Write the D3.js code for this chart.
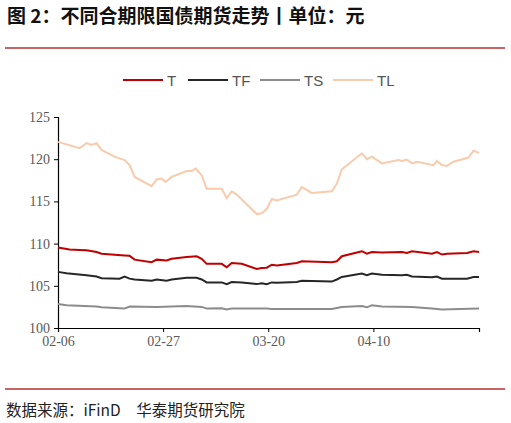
<!DOCTYPE html>
<html><head><meta charset="utf-8">
<script src="https://cdn.jsdelivr.net/npm/d3@7"></script>
<style>body{margin:0;background:#fff}</style></head>
<body><svg id="c" width="511" height="423"></svg>
<script>
// x positions as trading-day offsets from 2024-02-06
const seriesNames = ["T","TF","TS","TL"];
const colors = ["#c00000","#262626","#8c8c8c","#f8cbad"];
const tickLabels = ["02-06","02-27","03-20","04-10"];
const tickDays = [0,21,42,63];
const yTicks = [100,105,110,115,120,125];

const TL_d = [0,4.3,5.7,6.7,7.7,8.7,11.3,13.3,14.3,15.3,18.7,19.7,20.7,21.5,22.7,25.7,26.7,27.5,28.7,29.7,32.7,33.7,34.7,35.7,39.7,40.7,41.7,42.7,43.7,47.7,48.7,50.7,54.7,55.7,56.7,60.7,61.7,62.7,64.7,68.0,68.7,69.7,70.7,71.7,75.0,75.7,76.7,77.7,79.0,82.0,83.0,84.1];
const TL_v = [122.05,121.3,121.9,121.7,121.9,121.1,120.3,119.9,119.3,117.9,116.8,117.6,117.7,117.3,117.9,118.6,118.6,118.9,118.1,116.5,116.5,115.4,116.2,115.8,113.5,113.6,114.1,115.3,115.1,115.8,116.7,116.0,116.2,117.1,118.8,120.7,120.0,120.3,119.5,119.9,119.8,119.95,119.5,119.7,119.3,119.8,119.3,119.2,119.7,120.2,121.0,120.75];
const T_d = [0,2.3,4.3,5.7,7.7,8.7,13.3,14.3,15.3,18.7,19.7,21.7,22.7,25.7,27.7,28.7,29.7,32.7,33.7,34.7,36.7,39.7,40.7,41.7,42.7,43.7,47.7,48.7,54.7,55.7,56.7,60.7,61.7,62.7,64.7,68.7,69.7,70.7,74.7,75.7,76.7,77.7,81.7,83.0,84.1];
const T_v = [109.55,109.3,109.25,109.2,109.0,108.8,108.6,108.55,108.1,107.8,108.1,108.0,108.2,108.4,108.5,108.2,107.6,107.6,107.2,107.7,107.6,107.0,107.1,107.15,107.5,107.4,107.7,107.9,107.8,107.9,108.5,109.1,108.8,109.0,108.95,109.0,108.9,109.1,108.8,109.0,108.7,108.8,108.9,109.1,109.0];
const TF_d = [0,1.7,5.7,7.7,8.7,12.3,13.3,14.3,15.3,18.7,19.7,21.7,22.7,25.7,27.7,28.7,29.7,32.7,33.7,34.7,36.7,39.7,40.7,41.7,42.7,43.7,47.7,48.7,54.7,55.7,56.7,60.7,61.7,62.7,64.7,68.7,69.7,70.7,74.7,75.7,76.7,81.7,83.0,84.1];
const TF_v = [106.65,106.5,106.25,106.1,105.9,105.85,106.1,105.85,105.75,105.6,105.75,105.6,105.75,105.95,105.95,105.75,105.4,105.4,105.2,105.45,105.4,105.2,105.3,105.2,105.4,105.35,105.45,105.6,105.5,105.75,106.05,106.45,106.25,106.45,106.3,106.25,106.3,106.1,106.0,106.1,105.85,105.85,106.05,106.05];
const TS_d = [0,1.7,7.7,8.7,13.3,14.3,19.7,25.7,28.7,29.7,32.7,33.7,34.7,41.7,42.7,54.7,56.7,60.7,61.7,62.7,64.7,70.7,74.7,76.7,84.1];
const TS_v = [102.83,102.7,102.55,102.45,102.3,102.55,102.5,102.6,102.5,102.3,102.35,102.2,102.3,102.3,102.25,102.25,102.5,102.6,102.45,102.7,102.55,102.5,102.3,102.2,102.3];
const dataSets = [[T_d,T_v],[TF_d,TF_v],[TS_d,TS_v],[TL_d,TL_v]];

const svg = d3.select("#c");
svg.append("text").attr("x",7).attr("y",23).attr("font-family","Noto Sans CJK SC").attr("font-weight","bold").attr("font-size",19).attr("fill","#111").text("图 2：不同合期限国债期货走势丨单位：元");
svg.append("line").attr("x1",5).attr("x2",505).attr("y1",48).attr("y2",48).attr("stroke","#c86464").attr("stroke-width",2);
svg.append("line").attr("x1",5).attr("x2",505).attr("y1",389).attr("y2",389).attr("stroke","#c86464").attr("stroke-width",2);
svg.append("text").attr("x",6).attr("y",416).attr("font-family","Noto Sans CJK SC, Liberation Serif").attr("font-size",15.5).attr("fill","#222").text("数据来源：iFinD　华泰期货研究院");

const x = d3.scaleLinear().domain([0,84.1]).range([58,479]);
const y = d3.scaleLinear().domain([100,125]).range([328,117]);

const legX = [123,188,260,333];
seriesNames.forEach((n,i)=>{
  svg.append("line").attr("x1",legX[i]).attr("x2",legX[i]+40).attr("y1",80).attr("y2",80).attr("stroke",colors[i]).attr("stroke-width",2);
  svg.append("text").attr("x",legX[i]+44).attr("y",86).attr("font-family","Liberation Sans Narrow, Liberation Sans").attr("font-size",15).attr("fill","#555").text(n);
});

const yAx = svg.append("g").attr("transform","translate(58,0)").call(d3.axisLeft(y).tickValues(yTicks).tickSize(4).tickFormat(d3.format("d")));
const xAx = svg.append("g").attr("transform","translate(0,328)").call(d3.axisBottom(x).tickValues(tickDays.concat([84.1])).tickSize(4).tickFormat((d,i)=>tickLabels[i]||""));
[yAx,xAx].forEach(g=>{
  g.select(".domain").attr("stroke","#000").attr("stroke-width",1.2);
  g.selectAll(".tick line").attr("stroke","#000");
  g.selectAll("text").attr("font-family","Liberation Serif").attr("font-size",14).attr("fill","#595959");
});
yAx.selectAll("text").attr("x",-8);
xAx.selectAll("text").attr("y",8);

const line = d3.line().x(d=>x(d[0])).y(d=>y(d[1]));
[3,2,1,0].forEach(i=>{
  const [dd,vv]=dataSets[i];
  svg.append("path").datum(dd.map((d,k)=>[d,vv[k]])).attr("d",line).attr("fill","none").attr("stroke",colors[i]).attr("stroke-width",2);
});
</script></body></html>
